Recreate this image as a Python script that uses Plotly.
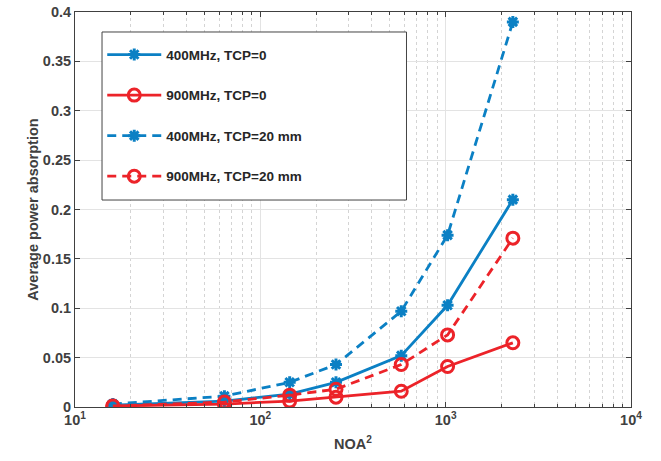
import plotly.graph_objects as go

noa2 = [16, 64, 144, 256, 576, 1024, 2304]
p400_tcp0 = [0.002, 0.006, 0.013, 0.025, 0.052, 0.103, 0.210]
p900_tcp0 = [0.001, 0.003, 0.006, 0.010, 0.016, 0.041, 0.065]
p400_tcp20 = [0.003, 0.011, 0.025, 0.043, 0.097, 0.174, 0.390]
p900_tcp20 = [0.001, 0.005, 0.012, 0.018, 0.043, 0.073, 0.171]
names = ["400MHz, TCP=0", "900MHz, TCP=0", "400MHz, TCP=20 mm", "900MHz, TCP=20 mm"]
xtick_vals = [10, 100, 1000, 10000]
xtick_text = ["10<sup>1</sup>", "10<sup>2</sup>", "10<sup>3</sup>", "10<sup>4</sup>"]
xminor_vals = [20, 30, 40, 50, 60, 70, 80, 90,
               200, 300, 400, 500, 600, 700, 800, 900,
               2000, 3000, 4000, 5000, 6000, 7000, 8000, 9000]

BLUE = "#0B80C4"
RED = "#EC2329"
TXT = "#404040"
FONT = "Liberation Sans"

fig = go.Figure()
series = [
    (p400_tcp0, BLUE, "solid", "asterisk-open"),
    (p900_tcp0, RED, "solid", "circle-open"),
    (p400_tcp20, BLUE, "9px,6px", "asterisk-open"),
    (p900_tcp20, RED, "9px,6px", "circle-open"),
]
for i, (vals, col, dash, sym) in enumerate(series):
    fig.add_trace(go.Scatter(
        x=noa2, y=vals, name=names[i], mode="lines+markers",
        legendgroup=str(i),
        line=dict(color=col, width=2.8, dash=dash),
        marker=dict(symbol=sym, size=12 if "circle" in sym else 10,
                    color=col, line=dict(color=col, width=3)),
    ))

axis_common = dict(
    showline=True, linecolor=TXT, linewidth=1, mirror="ticks",
    ticks="inside", ticklen=5, tickcolor=TXT,
    tickfont=dict(family=FONT, size=14.5, color=TXT, weight="bold"),
    showgrid=True, gridcolor="#E3E3E3", gridwidth=1, zeroline=False,
    automargin=False,
)

# legend frame (decoration behind the legend entries)
fig.add_shape(type="rect", xref="paper", yref="paper",
              x0=0.0486, x1=0.5962, y0=0.524, y1=0.9494,
              fillcolor="white", line=dict(color="#444444", width=1), layer="above")

fig.update_layout(
    width=661, height=461,
    margin=dict(l=75, r=30, t=12, b=54),
    paper_bgcolor="white", plot_bgcolor="white",
    font=dict(family=FONT, color=TXT, size=14),
    xaxis=dict(
        type="log", range=[1, 4],
        tickvals=xtick_vals, ticktext=xtick_text,
        title=dict(text="NOA<sup>2</sup>", font=dict(size=14.5, family=FONT, color=TXT, weight="bold"), standoff=11),
        minor=dict(tickvals=xminor_vals, ticks="inside", ticklen=3, tickcolor=TXT, showgrid=True,
                   gridcolor="#D4D4D4", griddash="dot", gridwidth=1),
        **axis_common,
    ),
    yaxis=dict(
        range=[0, 0.4], dtick=0.05, tick0=0,
        title=dict(text="Average power absorption", font=dict(size=14.5, family=FONT, color=TXT, weight="bold"), standoff=0),
        **axis_common,
    ),
    legend=dict(
        x=0.049, y=0.931, xanchor="left", yanchor="top",
        bgcolor="rgba(0,0,0,0)", borderwidth=0,
        font=dict(family=FONT, size=13.5, color="#262626", weight="bold"),
        tracegroupgap=20, itemwidth=54,
    ),
)

fig.write_html("out.html", config={"displayModeBar": False},
               post_script="document.body.style.margin='0';document.body.style.overflow='hidden';")
